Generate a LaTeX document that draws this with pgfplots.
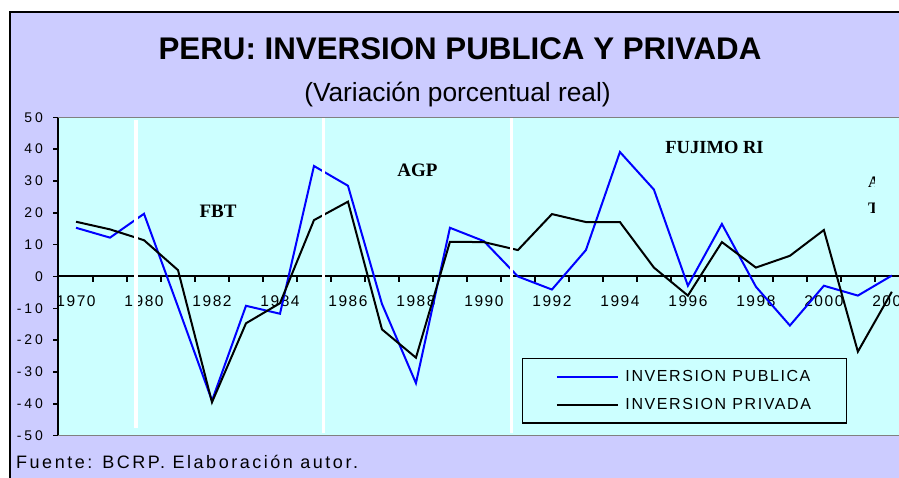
\documentclass[border=0pt]{standalone}
\usepackage{pgfplots}
\usepackage{pgfplotstable}
\pgfplotsset{compat=1.18}
\usepackage{fontspec}
\setmainfont{Liberation Sans}
\newfontfamily\ytickf[LetterSpace=20]{Liberation Sans}
\newfontfamily\xtickf[LetterSpace=10]{Liberation Sans}
\newfontfamily\legf[LetterSpace=10]{Liberation Sans}
\newfontfamily\footf[LetterSpace=14]{Liberation Sans}
\newfontfamily\serifb{Liberation Serif}
\definecolor{lav}{HTML}{CCCCFF}
\definecolor{cyanbg}{HTML}{CCFFFF}
\definecolor{pblue}{HTML}{0000FF}
\definecolor{bgray}{HTML}{808080}

\pgfplotstableread{
idx pub priv
0 15.3 17.2
1 12.2 14.8
2 19.7 11.4
3 -9.5 2.0
4 -39.0 -39.5
5 -9.2 -14.7
6 -11.7 -8.4
7 34.7 17.7
8 28.5 23.5
9 -8.6 -16.6
10 -33.5 -25.5
11 15.3 10.9
12 11.1 10.8
13 0.0 8.3
14 -4.1 19.6
15 8.3 17.1
16 39.1 17.1
17 27.3 2.8
18 -2.9 -6.0
19 16.5 10.8
20 -3.2 2.8
21 -15.4 6.5
22 -2.9 14.6
23 -6.0 -23.6
24 0.3 -4.8
}\datatable

\begin{document}
\begin{tikzpicture}
\fill[lav] (10bp,0) rectangle (899bp,466bp);
\draw[black, line width=2bp] (10bp,0) -- (10bp,466bp) -- (899bp,466bp);
\begin{axis}[
  at={(58bp,42.3bp)}, anchor=south west,
  width=841bp, height=318.4bp, scale only axis,
  xmin=-0.53, xmax=24.21, ymin=-50, ymax=50,
  axis background/.style={fill=cyanbg},
  axis x line*=middle, axis y line*=left,
  axis line style={-},
  every inner x axis line/.append style={-},
  every outer y axis line/.append style={-},
  x axis line style={line width=2bp, black},
  y axis line style={line width=2bp, black},
  hide obscured x ticks=false, hide obscured y ticks=false,
  xtick={0,2,...,24},
  xticklabels={1970,1980,1982,1984,1986,1988,1990,1992,1994,1996,1998,2000,2002},
  x tick style={draw=none},
  xticklabel style={font=\xtickf\fontsize{15.5bp}{16bp}\selectfont, inner sep=0pt, anchor=north, yshift=-19bp},
  ytick={-50,-40,...,50},
  yticklabels={-50,-40,-30,-20,-10,0,10,20,30,40,50},
  ytick align=outside, major tick length=5bp,
  y tick style={line width=1.5bp, black},
  yticklabel style={font=\ytickf\fontsize{14bp}{14bp}\selectfont, inner sep=0pt, anchor=east, xshift=-10bp},
  legend style={at={(axis description cs:0.5514,0.245)}, anchor=north west,
    draw=black, line width=1.5bp, fill=none, inner xsep=33.3bp, inner ysep=4.3bp,
    font=\legf\fontsize{16bp}{18bp}\selectfont, cells={anchor=west, inner sep=0pt},
    column sep=4bp},
  legend image code/.code={\path[draw=none, fill=none] (0,-14bp) rectangle (0,14bp); \draw[#1, line width=2bp] (0,0) -- (61.7bp,0);},
]
\pgfplotsinvokeforeach{0.5,1.5,...,23.5}{\draw[black, line width=1.5bp] (axis cs:#1,0) -- ([yshift=-6bp]axis cs:#1,0);}
\addplot[pblue, line width=2bp, mark=none] table[x=idx,y=pub]{\datatable};
\addlegendentry{INVERSION PUBLICA}
\addplot[black, line width=2bp, mark=none] table[x=idx,y=priv]{\datatable};
\addlegendentry{INVERSION PRIVADA}
\draw[white, line width=3.3bp] (axis cs:1.765,49.2) -- (axis cs:1.765,-47.6);
\draw[white, line width=3.3bp] (axis cs:7.27,50) -- (axis cs:7.27,-49.2);
\draw[white, line width=3.3bp] (axis cs:12.81,50) -- (axis cs:12.81,-49.2);
\draw[bgray, line width=2bp] (rel axis cs:0,1) -- (rel axis cs:1,1);
\draw[bgray, line width=2bp] (rel axis cs:0,0) -- (rel axis cs:1,0);
\end{axis}
\node[anchor=base, inner sep=0, font=\bfseries\fontsize{31.3bp}{31.3bp}\selectfont] at (460bp,418bp) {PERU: INVERSION PUBLICA Y PRIVADA};
\node[anchor=base, inner sep=0, font=\fontsize{26.3bp}{26.3bp}\selectfont] at (457.5bp,376.3bp) {(Variación porcentual real)};
\node[anchor=base west, inner sep=0, font=\footf\fontsize{18bp}{18bp}\selectfont] at (16bp,10bp) {Fuente: BCRP. Elaboración autor.};
\node[inner sep=0, font=\serifb\bfseries\fontsize{19bp}{19bp}\selectfont] at (218bp,267bp) {FBT};
\node[inner sep=0, font=\serifb\bfseries\fontsize{19bp}{19bp}\selectfont] at (417.5bp,308bp) {AGP};
\node[inner sep=0, font=\serifb\bfseries\fontsize{18.5bp}{19bp}\selectfont] at (714.5bp,331bp) {FUJIMO RI};
\begin{scope}
\clip (860bp,0) rectangle (874.5bp,478bp);
\node[anchor=west, inner sep=0, font=\serifb\bfseries\fontsize{16bp}{16bp}\selectfont] at (868bp,295.5bp) {A};
\node[anchor=west, inner sep=0, font=\serifb\bfseries\fontsize{16bp}{16bp}\selectfont] at (868bp,269.5bp) {T};
\end{scope}
\pgfresetboundingbox
\path[use as bounding box] (0,0) rectangle (899bp,478bp);
\end{tikzpicture}
\end{document}
